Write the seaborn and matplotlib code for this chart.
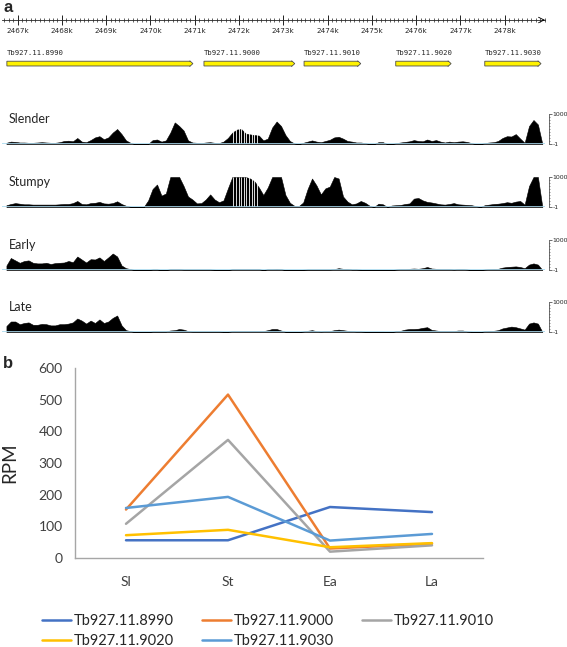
import numpy as np
import pandas as pd
import matplotlib.pyplot as plt
import matplotlib.patches as mpatches
from matplotlib.ticker import MultipleLocator
import seaborn as sns

#%% data

# genome window (kb) and genes
win_start = 2466.65
win_end = 2478.91
ruler_ticks = [2467, 2468, 2469, 2470, 2471, 2472, 2473, 2474, 2475, 2476, 2477, 2478]
gene_names = ['Tb927.11.8990', 'Tb927.11.9000', 'Tb927.11.9010', 'Tb927.11.9020', 'Tb927.11.9030']
gene_start = [2466.76, 2471.21, 2473.47, 2475.54, 2477.55]
gene_end = [2470.96, 2473.26, 2474.75, 2476.79, 2478.82]

# coverage tracks, 0.1 kb bins from 2466.7 kb, in % of track height (100 = 1000 cap)
bin0 = 2466.7
bin_w = 0.1
slender = [4, 8, 7, 5, 5, 4, 4, 5, 6, 5, 4, 4, 6, 10, 11, 9, 20, 8, 6, 13,
           22, 26, 16, 22, 38, 50, 33, 12, 4, 0, 0, 0, 0, 13, 15, 8, 12, 38, 72, 60,
           45, 12, 5, 4, 3, 5, 6, 4, 3, 8, 20, 38, 48, 50, 35, 32, 30, 28, 12, 18,
           55, 75, 60, 30, 10, 2, 0, 4, 8, 12, 8, 6, 10, 14, 22, 24, 18, 10, 8, 5,
           5, 3, 0, 0, 6, 6, 0, 0, 3, 5, 7, 9, 13, 10, 9, 15, 10, 13, 8, 5,
           8, 6, 8, 9, 7, 3, 0, 0, 3, 5, 6, 10, 20, 26, 25, 33, 18, 4, 60, 80,
           65, 0]
stumpy = [6, 10, 13, 11, 9, 9, 8, 8, 8, 8, 8, 8, 9, 10, 10, 13, 20, 10, 9, 13,
          14, 17, 12, 11, 13, 19, 10, 4, 1, 0, 0, 0, 22, 60, 75, 38, 45, 100, 100, 100,
          70, 35, 25, 12, 13, 25, 42, 25, 16, 22, 62, 100, 100, 100, 100, 95, 85, 65, 40, 65,
          100, 100, 100, 40, 14, 4, 3, 15, 60, 95, 72, 42, 62, 68, 100, 95, 35, 18, 9, 12,
          20, 14, 4, 0, 11, 9, 0, 5, 6, 7, 10, 12, 28, 30, 22, 17, 15, 12, 9, 8,
          10, 13, 9, 8, 7, 6, 3, 0, 6, 8, 10, 11, 13, 16, 14, 18, 20, 8, 70, 100,
          100, 0]
early = [15, 40, 32, 24, 30, 32, 24, 22, 22, 24, 20, 23, 24, 25, 30, 26, 45, 35, 25, 36,
         35, 42, 30, 42, 55, 45, 15, 6, 3, 0, 0, 0, 0, 2, 2, 0, 0, 3, 3, 3,
         2, 2, 2, 2, 2, 2, 2, 1, 0, 0, 0, 3, 3, 3, 3, 3, 3, 3, 0, 3,
         3, 4, 3, 0, 0, 0, 0, 1, 2, 2, 2, 2, 2, 2, 3, 6, 4, 4, 2, 2,
         1, 0, 0, 0, 0, 0, 0, 0, 2, 3, 3, 4, 5, 4, 6, 10, 5, 4, 3, 3,
         3, 2, 3, 3, 2, 0, 0, 0, 2, 3, 4, 4, 8, 10, 11, 12, 10, 6, 18, 22,
         18, 0]
late = [20, 35, 35, 26, 30, 32, 24, 24, 27, 26, 22, 22, 26, 26, 28, 32, 45, 38, 28, 38,
        30, 42, 30, 35, 47, 55, 22, 6, 3, 0, 0, 0, 0, 2, 2, 2, 2, 5, 6, 10,
        8, 3, 2, 2, 2, 2, 2, 2, 2, 1, 1, 3, 3, 3, 3, 3, 3, 3, 3, 6,
        10, 10, 5, 1, 0, 0, 0, 2, 4, 6, 3, 2, 3, 3, 6, 8, 6, 4, 3, 2,
        2, 1, 1, 1, 1, 1, 0, 0, 3, 4, 8, 10, 10, 11, 14, 16, 7, 5, 3, 3,
        3, 3, 5, 5, 2, 1, 0, 0, 3, 4, 4, 6, 12, 15, 18, 16, 12, 8, 28, 32,
        28, 0]
track_names = ['Slender', 'Stumpy', 'Early', 'Late']
# uncovered single positions inside the 2472k peak
gap_kb = [2471.87, 2471.93, 2471.99, 2472.05, 2472.11, 2472.17, 2472.23, 2472.29, 2472.35, 2472.41]

# panel b
stages = ['Sl', 'St', 'Ea', 'La']
rpm_8990 = [56, 56, 161, 145]
rpm_9000 = [153, 516, 30, 45]
rpm_9010 = [108, 373, 20, 40]
rpm_9020 = [72, 89, 34, 47]
rpm_9030 = [158, 193, 55, 76]
line_colors = ['#4472C4', '#ED7D31', '#A5A5A5', '#FFC000', '#5B9BD5']

#%% figure

sns.set_style('white')
plt.rcParams['font.family'] = ['Lato', 'DejaVu Sans']

W, H = 567, 647
fig = plt.figure(figsize=(W / 100, H / 100), dpi=100)

def rect(x, y_top, w, h):
    # pixel box -> figure fraction
    return [x / W, 1 - (y_top + h) / H, w / W, h / H]

fig.text(3 / W, 1 - 7 / H, 'a', fontsize=12, fontweight='bold', va='center',
         family='Liberation Sans')
fig.text(3 / W, 1 - 364 / H, 'b', fontsize=12, fontweight='bold', va='center',
         family='Liberation Sans')

# ruler
rax = fig.add_axes(rect(2, 20, 543, 0.01))
rax.set_xlim(win_start, win_end)
rax.set_ylim(-1, 1)
for s in ['top', 'left', 'right']:
    rax.spines[s].set_visible(False)
rax.spines['bottom'].set_linewidth(0.6)
rax.set_yticks([])
rax.set_xticks(ruler_ticks)
rax.set_xticklabels([f'{t}k' for t in ruler_ticks], family='DejaVu Sans', fontsize=5.2)
rax.xaxis.set_minor_locator(MultipleLocator(0.1))
rax.tick_params(axis='x', which='both', bottom=True, color='#222222')
rax.tick_params(axis='x', which='major', direction='inout', length=7, width=0.7, pad=2.5)
rax.tick_params(axis='x', which='minor', direction='inout', length=3.5, width=0.5)
rax.annotate('', xy=(win_end, -1), xytext=(win_end - 0.12, -1),
             arrowprops=dict(arrowstyle='->', lw=0.6, color='black'))

# genes
gax = fig.add_axes(rect(2, 44, 543, 28))
gax.set_xlim(win_start, win_end)
gax.set_ylim(0, 1)
gax.axis('off')
for name, s, e in zip(gene_names, gene_start, gene_end):
    arr = mpatches.FancyArrow(s, 0.3, e - s, 0, width=0.17, head_width=0.2,
                              head_length=0.07, length_includes_head=True,
                              fc='#FFF200', ec='#4d4d4d', lw=0.6)
    gax.add_patch(arr)
    gax.text(s, 0.68, name, family='DejaVu Sans Mono', fontsize=5.2, va='center', ha='left')

# coverage tracks
centers = bin0 + bin_w * (np.arange(len(slender)) + 0.5)
track_tops = [114, 177, 240, 302]
for name, vals, top in zip(track_names, [slender, stumpy, early, late], track_tops):
    ax = fig.add_axes(rect(2, top, 543, 30))
    ax.set_xlim(win_start, win_end)
    ax.set_ylim(0, 100)
    ax.fill_between(centers, 0, vals, color='black', lw=0.4, edgecolor='black')
    if name in ['Slender', 'Stumpy']:
        ax.vlines(gap_kb, 1, 100, color='white', lw=0.6)
    ax.axhline(0, color='#A9D9EE', lw=1.2)
    ax.text(0.012, 0.82, name, transform=ax.transAxes, fontsize=9, va='center', ha='left')
    for s in ['top', 'left', 'bottom']:
        ax.spines[s].set_visible(False)
    ax.spines['right'].set_position(('axes', 1.008))
    ax.spines['right'].set_linewidth(0.5)
    ax.spines['right'].set_color('#333333')
    ax.set_xticks([])
    ax.yaxis.tick_right()
    ax.set_yticks([0, 100])
    ax.set_yticklabels(['-1', '1000'], family='DejaVu Sans', fontsize=4.5)
    ax.yaxis.set_minor_locator(MultipleLocator(10))
    ax.tick_params(axis='y', which='both', right=True, color='#333333')
    ax.tick_params(axis='y', which='major', length=2, width=0.5, pad=0.5)
    ax.tick_params(axis='y', which='minor', length=1, width=0.4)

#%% panel b

df = pd.DataFrame({
    'stage': stages * 5,
    'RPM': rpm_8990 + rpm_9000 + rpm_9010 + rpm_9020 + rpm_9030,
    'gene': [g for g in gene_names for _ in stages],
})

bax = fig.add_axes(rect(75, 368, 408, 190))
sns.lineplot(data=df, x='stage', y='RPM', hue='gene', palette=line_colors,
             sort=False, lw=1.8, ax=bax)
bax.set_xlim(-0.5, 3.5)
bax.set_ylim(0, 600)
bax.set_yticks([0, 100, 200, 300, 400, 500, 600])
bax.set_xlabel('')
bax.set_ylabel('RPM', fontsize=13.5)
bax.yaxis.set_label_coords(-0.138, 0.5)
sns.despine(ax=bax)
for s in ['left', 'bottom']:
    bax.spines[s].set_color('#A6A6A6')
    bax.spines[s].set_linewidth(1.0)
bax.tick_params(axis='both', length=0, labelsize=10, labelcolor='#404040')
bax.tick_params(axis='y', pad=9)
bax.tick_params(axis='x', pad=13)

handles, labels = bax.get_legend_handles_labels()
bax.get_legend().remove()
order = [0, 3, 1, 4, 2]
fig.legend([handles[i] for i in order], [labels[i] for i in order],
           loc='upper left', bbox_to_anchor=(36 / W, 1 - 608 / H), ncol=3,
           frameon=False, fontsize=10.5, handlelength=2.0, handletextpad=0.2,
           columnspacing=1.9, labelspacing=0.45, borderaxespad=0)

plt.savefig('out.png', dpi=100)
